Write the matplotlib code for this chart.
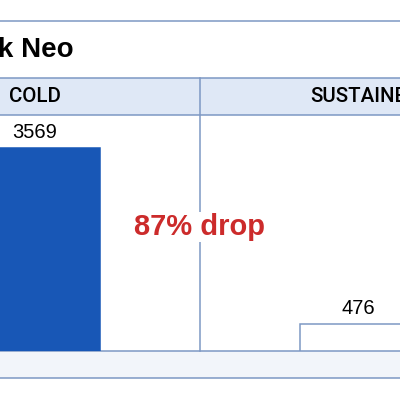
import matplotlib
matplotlib.use("Agg")
import matplotlib.pyplot as plt
from matplotlib.patches import Rectangle

plt.rcParams['font.family'] = ['Liberation Sans', 'DejaVu Sans']

# data
categories = ["COLD", "SUSTAINED"]
values = [3569, 476]
bar_colors = ["#1857b6", "#ffffff"]
title = "k Neo"
note = "87% drop"

line_c = "#7d98c4"
head_c = "#dfe8f6"
foot_c = "#f2f5fa"

fig = plt.figure(figsize=(4, 4), dpi=100)

# frame / panel decorations in pixel space
bg = fig.add_axes([0, 0, 1, 1])
bg.set_xlim(0, 400)
bg.set_ylim(400, 0)
bg.axis("off")
bg.add_patch(Rectangle((-5, 78), 410, 37, facecolor=head_c, edgecolor="none"))
bg.add_patch(Rectangle((-5, 351), 410, 27, facecolor=foot_c, edgecolor="none"))
for y in (21, 78, 115, 351, 378):
    bg.plot([0, 400], [y, y], color=line_c, lw=1.1)
bg.plot([200, 200], [78, 351], color=line_c, lw=1.1)
bg.text(-2, 50, title, fontsize=20, fontweight="bold", ha="left", va="center")

# bar area: panel centres at x=0 and x=1, panel width 1
ymax = 3569 * 236 / 203
ax = fig.add_axes([0, (400 - 351) / 400, 1, (351 - 115) / 400])
ax.set_xlim(-38 / 324, (400 - 38) / 324)
ax.set_ylim(0, ymax)
ax.axis("off")
xs = range(len(categories))
bars = ax.bar(xs, values, width=0.385, color=bar_colors,
              edgecolor=[bar_colors[0], line_c], linewidth=1.1)
for x, v in zip(xs, values):
    ax.annotate(str(v), (x - 0.01, v), xytext=(0, 4), textcoords="offset points",
                ha="center", va="bottom", fontsize=14.5)

# header labels (panel centres in pixels)
head_x = [35, 365]
for hx, c in zip(head_x, categories):
    bg.text(hx, 97, c, fontsize=14.8, ha="center", va="center",
            family=["Roboto", "Liberation Sans"], fontweight="medium")

ax.text(0.5, ymax * (351 - 227) / 236, note, ha="center", va="center",
        fontsize=21, fontweight="bold", color="#cc2b2b",
        bbox=dict(facecolor="white", edgecolor="none", pad=1))

fig.savefig("out.png", dpi=100)
